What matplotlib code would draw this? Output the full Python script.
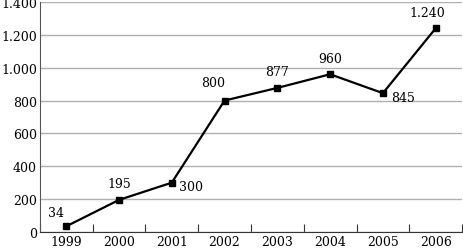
import matplotlib.pyplot as plt
import numpy as np

years = ["1999", "2000", "2001", "2002", "2003", "2004", "2005", "2006"]
values = [34, 195, 300, 800, 877, 960, 845, 1240]
labels = ["34", "195", "300", "800", "877", "960", "845", "1.240"]
# where each label sits relative to its point: (dx, dy) in points, horizontal alignment
label_pos = [(-7, 5, "center"), (0, 7, "center"), (5, -3, "left"), (-8, 8, "center"),
             (0, 7, "center"), (0, 7, "center"), (6, -3, "left"), (-6, 7, "center")]

plt.rcParams['font.family'] = ['DejaVu Serif']
plt.rcParams['font.size'] = 9

fig = plt.figure(figsize=(4.63, 2.51), dpi=100)
ax = fig.add_axes([0.086, 0.072, 0.912, 0.916])

x = np.arange(len(years))
ax.plot(x, values, color="black", lw=1.6, marker="s", ms=4.5, zorder=3)

for xi, v, t, (dx, dy, ha) in zip(x, values, labels, label_pos):
    ax.annotate(t, (xi, v), xytext=(dx, dy), textcoords="offset points",
                ha=ha, va="bottom" if dy > 0 else "center", fontsize=9)

ax.set_xlim(-0.5, len(years) - 0.5)
ax.set_ylim(0, 1400)
yt = np.arange(0, 1401, 200)
ax.set_yticks(yt)
ax.set_yticklabels([f"{v:,}".replace(",", ".") for v in yt])
ax.yaxis.grid(True, color="#b0b0b0", lw=1)
ax.set_axisbelow(True)

ax.set_xticks(np.arange(-0.5, len(years), 1.0))
ax.set_xticklabels([])
ax.set_xticks(x, minor=True)
ax.set_xticklabels(years, minor=True)
ax.tick_params(axis="x", which="major", direction="in", length=6, color="#333333")
ax.tick_params(axis="x", which="minor", length=0, pad=2)
ax.tick_params(axis="y", length=0, pad=2)

for s in ["top", "right"]:
    ax.spines[s].set_visible(False)
ax.spines["left"].set_color("#555555")
ax.spines["bottom"].set_color("#333333")

fig.savefig("out.png", dpi=100)
